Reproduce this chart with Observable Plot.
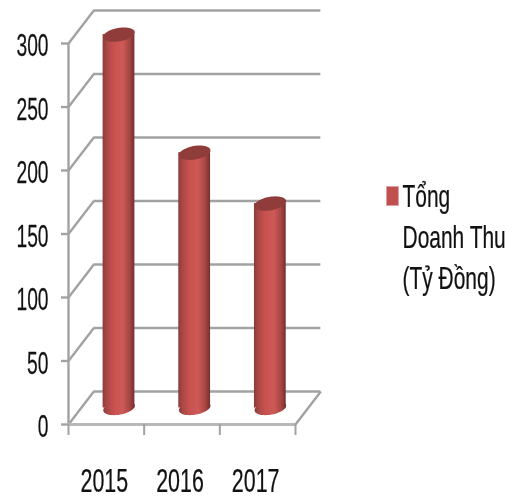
<!DOCTYPE html>
<html>
<head>
<meta charset="utf-8">
<script src="https://cdn.jsdelivr.net/npm/d3@7"></script>
<script src="https://cdn.jsdelivr.net/npm/@observablehq/plot@0.6"></script>
<style>
  html, body { margin: 0; padding: 0; background: #fff; }
  svg { display: block; filter: blur(0.5px); }
</style>
</head>
<body>
<div id="chart"></div>
<script>
const years = [2015, 2016, 2017];
const revenue = [294, 201, 161];
const yTicks = [0, 50, 100, 150, 200, 250, 300];
const xEdges = [2014.5, 2015.5, 2016.5, 2017.5];
const legendLabel = "Tổng\nDoanh Thu\n(Tỷ Đồng)";

// 3D depth of the chart box, expressed in scale units
const depthX = 0.335, depthY = 26, halfBar = 0.21;
const xMin = xEdges[0], xMax = xEdges[xEdges.length - 1];
const bars = years.map((year, i) => ({year, value: revenue[i]}));

const gridColor = "#a2a2a2", textColor = "#111", barColor = "#c0504d";
const font = "Liberation Sans, Arial, sans-serif";

const squeeze = k => (index, scales, values, dims, context, next) => {
  const g = next(index, scales, values, dims, context);
  g.querySelectorAll("text").forEach(t => {
    t.setAttribute("transform", (t.getAttribute("transform") || "") + ` scale(${k},1)`);
  });
  return g;
};
const ellipse = {
  draw(ctx, size) {
    const R = Math.sqrt(size / Math.PI), a = -10 * Math.PI / 180, n = 48;
    for (let i = 0; i <= n; ++i) {
      const t = 2 * Math.PI * i / n, px = R * Math.cos(t), py = 0.42 * R * Math.sin(t);
      const X = px * Math.cos(a) - py * Math.sin(a), Y = px * Math.sin(a) + py * Math.cos(a);
      i ? ctx.lineTo(X, Y) : ctx.moveTo(X, Y);
    }
    ctx.closePath();
  }
};
const swatch = {
  draw(ctx, size) {
    const R = Math.sqrt(size / Math.PI), w = R * 0.63;
    ctx.moveTo(-w, -R); ctx.lineTo(w, -R); ctx.lineTo(w, R); ctx.lineTo(-w, R); ctx.closePath();
  }
};
const gradient = () => {
  const ns = "http://www.w3.org/2000/svg";
  const defs = document.createElementNS(ns, "defs");
  const lg = document.createElementNS(ns, "linearGradient");
  lg.setAttribute("id", "cyl");
  [[0, "#8a3b39"], [0.12, "#a84745"], [0.35, "#c9524f"], [0.62, "#cd5a57"], [0.85, "#a84542"], [1, "#713030"]].forEach(([o, c]) => {
    const s = document.createElementNS(ns, "stop");
    s.setAttribute("offset", o);
    s.setAttribute("stop-color", c);
    lg.appendChild(s);
  });
  defs.appendChild(lg);
  return defs;
};

const chart = Plot.plot({
  width: 513,
  height: 500,
  marginLeft: 68,
  marginRight: 218,
  marginTop: 43,
  marginBottom: 76,
  style: {background: "#fff", fontFamily: font, overflow: "visible"},
  x: {domain: [xMin, xMax]},
  y: {domain: [0, 300]},
  marks: [
    gradient,
    // back wall lines
    Plot.ruleY(yTicks, {x1: xMin + depthX, x2: xMax + depthX, y: d => d + depthY, stroke: gridColor, strokeWidth: 2.6}),
    // side wall diagonals
    Plot.link(yTicks, {x1: xMin, x2: xMin + depthX, y1: d => d, y2: d => d + depthY, stroke: gridColor, strokeWidth: 2.4}),
    // floor
    Plot.link([0], {x1: xMax, x2: xMax + depthX, y1: 0, y2: depthY, stroke: gridColor, strokeWidth: 2.4}),
    Plot.ruleX([xMin], {y1: 0, y2: 300, stroke: gridColor, strokeWidth: 2.4}),
    Plot.ruleY([0], {x1: xMin, x2: xMax, stroke: "#b8b8b8", strokeWidth: 3}),
    // axes
    Plot.axisY({ticks: yTicks, tickSize: 7, tickFormat: () => "", stroke: gridColor, strokeWidth: 2.4, label: null}),
    Plot.axisX({ticks: xEdges, tickSize: 11, tickFormat: () => "", stroke: gridColor, strokeWidth: 2, label: null}),
    Plot.text(yTicks, {x: xMin, y: d => d, text: d => String(d), dx: -20, dy: 3, textAnchor: "end", fontSize: 31, fill: textColor, stroke: textColor, strokeWidth: 0.25, render: squeeze(0.62)}),
    Plot.text(years, {x: d => d, y: 0, text: d => String(d), dx: -2, dy: 57, fontSize: 33, fill: textColor, stroke: textColor, strokeWidth: 0.25, render: squeeze(0.65)}),
    // cylinders: base, body, lid
    Plot.dot(bars, {x: d => d.year + depthX / 2, y: depthY / 2, r: 16, symbol: ellipse, fill: "url(#cyl)"}),
    Plot.rect(bars, {x1: d => d.year + depthX / 2 - halfBar, x2: d => d.year + depthX / 2 + halfBar, y1: depthY / 2, y2: d => d.value + depthY / 2, fill: "url(#cyl)"}),
    Plot.dot(bars, {x: d => d.year + depthX / 2, y: d => d.value + depthY / 2, r: 16, symbol: ellipse, fill: "#8f3c3a"}),
    // legend
    Plot.dot([legendLabel], {frameAnchor: "top-left", dx: 324, dy: 152.5, r: 9.5, symbol: swatch, fill: barColor, stroke: "#dd9c9a", strokeWidth: 0.6}),
    Plot.text([legendLabel], {frameAnchor: "top-left", dx: 334, dy: 134, text: d => d, textAnchor: "start", lineAnchor: "top", lineHeight: 1.28, fontSize: 32, fill: textColor, stroke: textColor, strokeWidth: 0.25, render: squeeze(0.655)})
  ]
});
document.getElementById("chart").appendChild(chart);
</script>
</body>
</html>
